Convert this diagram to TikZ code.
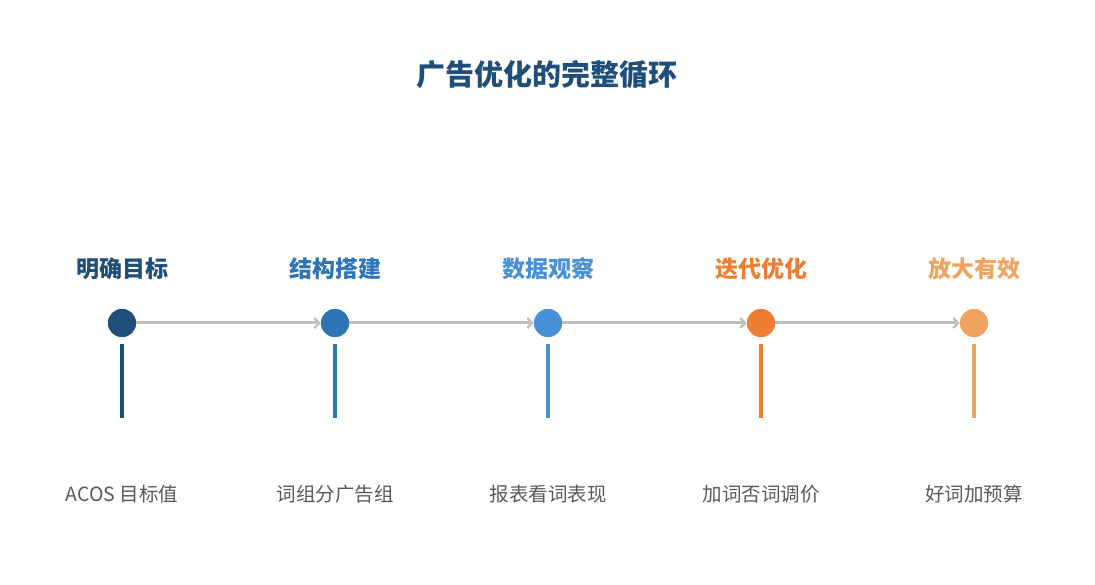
\documentclass[tikz,border=0pt]{standalone}
\usepackage{fontspec}
\setmainfont{Noto Sans CJK SC}
\newfontfamily\cjk{Noto Sans CJK SC}
\usetikzlibrary{arrows.meta}
\definecolor{cA}{HTML}{1F4E79}
\definecolor{cB}{HTML}{2E75B6}
\definecolor{cC}{HTML}{4A90D9}
\definecolor{cD}{HTML}{ED7D31}
\definecolor{cE}{HTML}{F0A35E}
\definecolor{lineg}{HTML}{BFBFBF}
\definecolor{txtg}{HTML}{595959}
\tikzset{
  dotnode/.style={circle,fill=#1,minimum size=28pt,inner sep=0pt},
  steplabel/.style={text=#1,font=\cjk\bfseries\fontsize{23}{27}\selectfont,inner sep=0pt},
  desclabel/.style={text=txtg,font=\cjk\fontsize{19.5}{23}\selectfont,inner sep=0pt},
  stem/.style={draw=#1,line width=3.5pt},
  flow/.style={draw=lineg,line width=3pt,-{Straight Barb[length=5pt,width=10pt,line width=2.2pt]}},
}
\begin{document}
\begin{tikzpicture}[x=1pt,y=-1pt]
\useasboundingbox (0,0) rectangle (1095,585);
\node[text=cA,font=\cjk\bfseries\fontsize{29}{33}\selectfont,inner sep=0pt] (title) at (547,75) {广告优化的完整循环};
\foreach \i/\x/\c/\lab/\desc in {1/122/cA/明确目标/ACOS 目标值,2/335/cB/结构搭建/词组分广告组,3/548/cC/数据观察/报表看词表现,4/761/cD/迭代优化/加词否词调价,5/974/cE/放大有效/好词加预算}{
  \node[steplabel=\c] (l\i) at (\x,269) {\lab};
  \node[dotnode=\c] (d\i) at (\x,323) {};
  \coordinate (s\i) at (\x,344);
  \coordinate (e\i) at (\x,418);
  \draw[stem=\c] (s\i) -- (e\i);
  \node[desclabel] (t\i) at (\x,494) {\desc};
}
\foreach \a/\b in {1/2,2/3,3/4,4/5}{
  \draw[flow] (d\a) -- (d\b);
}
\foreach \i/\c in {1/cA,2/cB,3/cC,4/cD,5/cE}{
  \node[dotnode=\c] at (d\i) {};
}
\end{tikzpicture}
\end{document}
